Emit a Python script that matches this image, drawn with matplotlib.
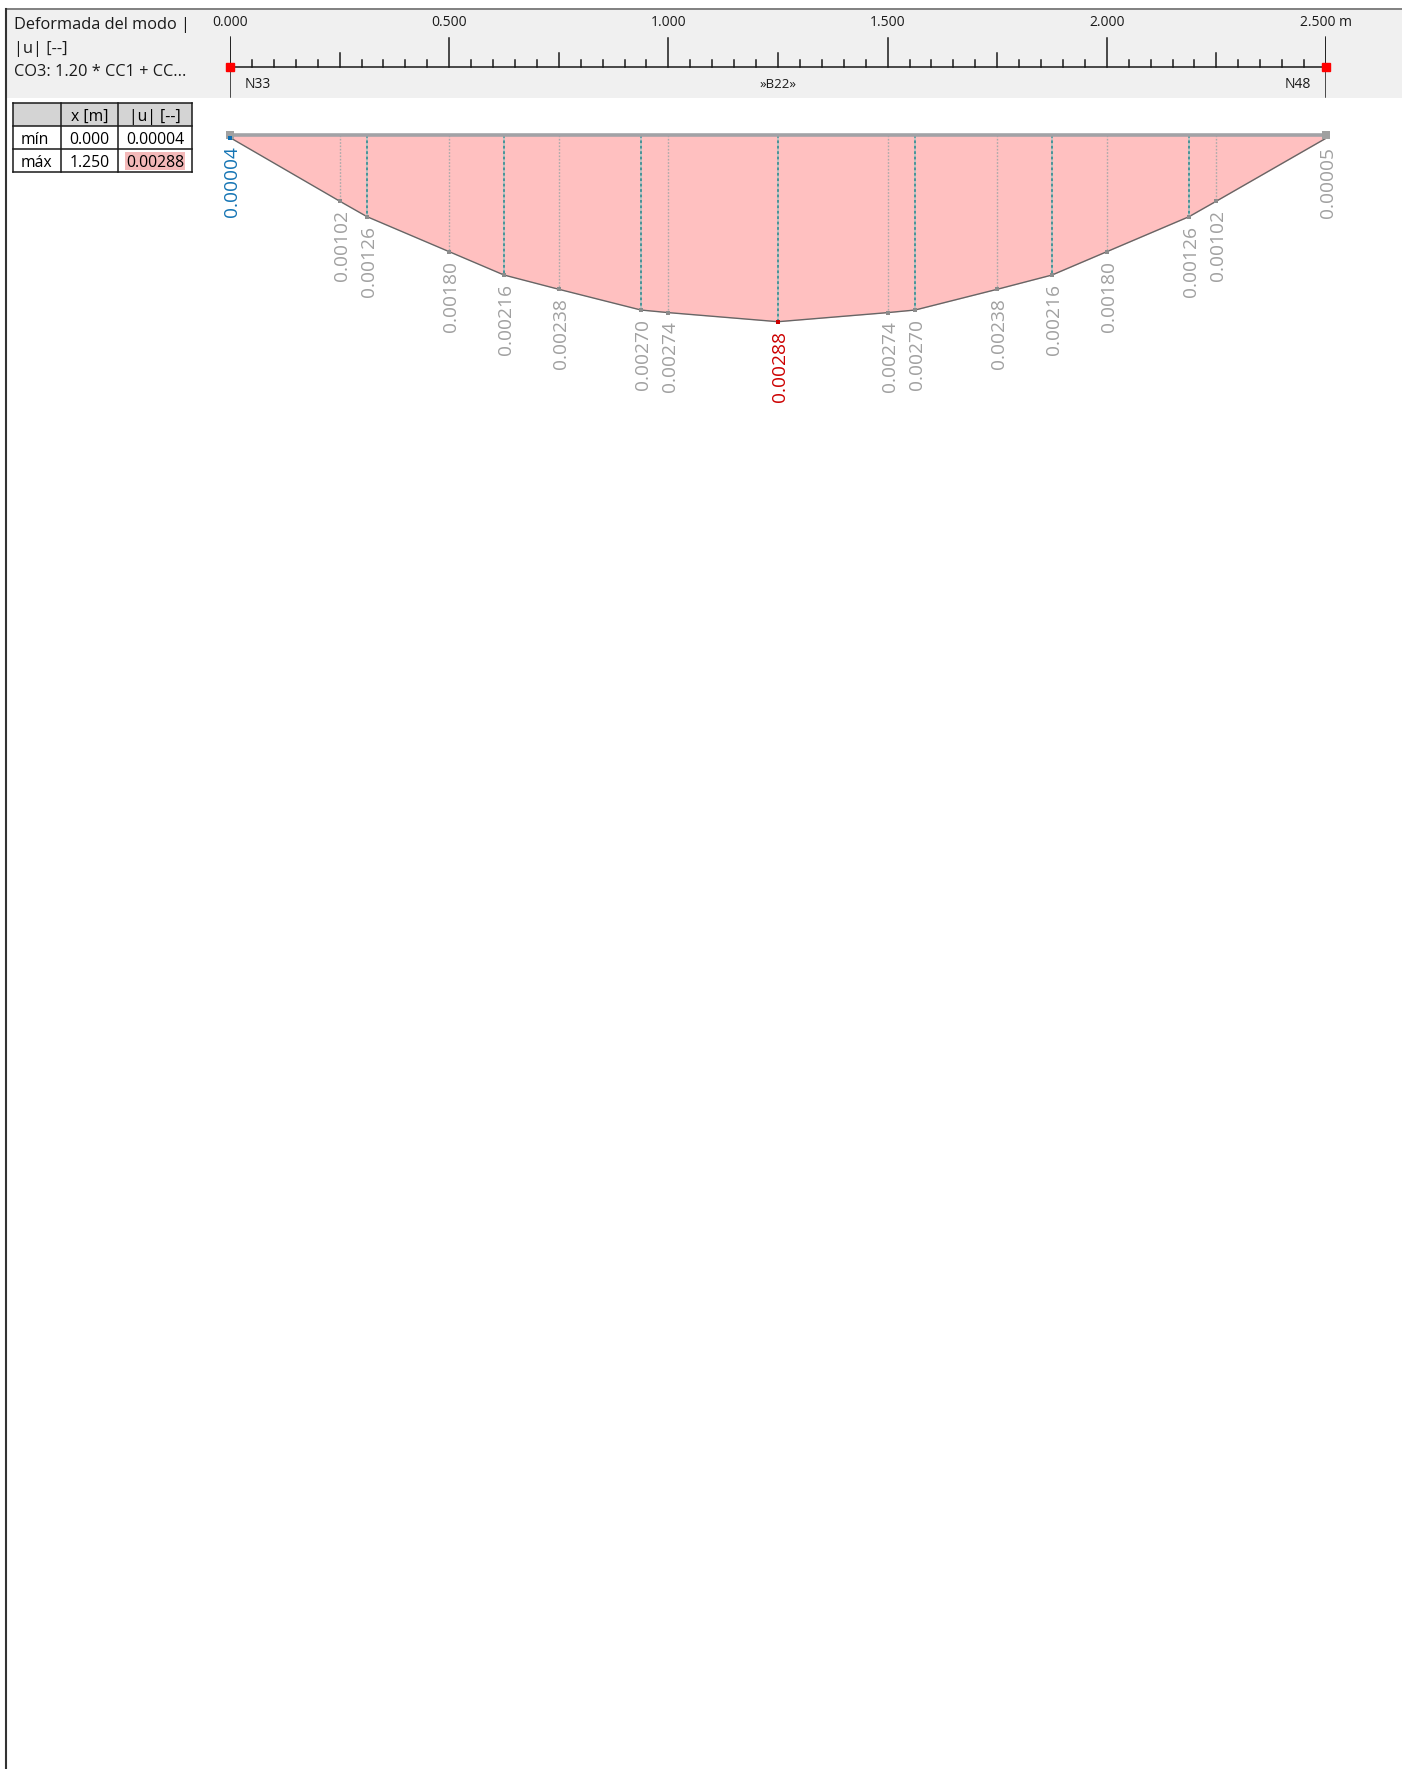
import numpy as np
import matplotlib
matplotlib.use("Agg")
import matplotlib.pyplot as plt
from matplotlib.patches import Rectangle

plt.rcParams['font.family'] = ['Open Sans', 'DejaVu Sans']

W, H = 1402, 1769

# member B22 between nodes N33 and N48, length in m
beam_len = 2.5
x_pts = [0.0, 0.25, 0.3125, 0.5, 0.625, 0.75, 0.9375, 1.0, 1.25,
         1.5, 1.5625, 1.75, 1.875, 2.0, 2.1875, 2.25, 2.5]
u_pts = [0.00004, 0.00102, 0.00126, 0.00180, 0.00216, 0.00238, 0.00270, 0.00274, 0.00288,
         0.00274, 0.00270, 0.00238, 0.00216, 0.00180, 0.00126, 0.00102, 0.00005]
div_x = [0.3125, 0.625, 0.9375, 1.25, 1.5625, 1.875, 2.1875]
ruler_labels = [0.0, 0.5, 1.0, 1.5, 2.0, 2.5]
node_names = ['N33', 'N48']
member_name = '»B22»'
title_lines = ['Deformada del modo |', '|u| [--]', 'CO3: 1.20 * CC1 + CC...']
table_cols = ['x [m]', '|u| [--]']
table_rows = ['mín', 'máx']

i_min = int(np.argmin(u_pts))
i_max = int(np.argmax(u_pts))


def px_box(x0, y0, x1, y1):
    return [x0 / W, 1 - y1 / H, (x1 - x0) / W, (y1 - y0) / H]


fig = plt.figure(figsize=(W / 100, H / 100), dpi=100)
base = fig.add_axes([0, 0, 1, 1])
base.set_xlim(0, W)
base.set_ylim(H, 0)
base.axis('off')

# header band + frame
base.add_patch(Rectangle((6, 9), W - 6, 89, facecolor='#f0f0f0', edgecolor='none'))
base.plot([6, W], [9, 9], color='#808080', lw=1.4)
base.plot([6, 6], [9, H], color='#333333', lw=1.5)

for k, line in enumerate(title_lines):
    base.text(14, 25 + 23.5 * k, line, fontsize=11.8, va='center', ha='left', color='#1a1a1a')

# summary table
cx = [13, 61, 118, 192]
ry = [103, 126, 149, 172]
base.add_patch(Rectangle((cx[0], ry[0]), cx[-1] - cx[0], ry[1] - ry[0], facecolor='#d4d4d4', edgecolor='none'))
base.add_patch(Rectangle((125, 152), 60, 18, facecolor='#f4b9b9', edgecolor='none'))
for x in cx:
    base.plot([x, x], [ry[0], ry[-1]], color='#1a1a1a', lw=1.1)
for y in ry:
    base.plot([cx[0], cx[-1]], [y, y], color='#1a1a1a', lw=1.1)
for j, name in enumerate(table_cols):
    base.text((cx[j + 1] + cx[j + 2]) / 2, (ry[0] + ry[1]) / 2 + 2.5, name, fontsize=11.3, ha='center', va='center')
for r, (name, idx) in enumerate(zip(table_rows, [i_min, i_max])):
    yc = (ry[r + 1] + ry[r + 2]) / 2 + 2.5
    base.text(21, yc, name, fontsize=11.3, ha='left', va='center')
    base.text((cx[1] + cx[2]) / 2, yc, f'{x_pts[idx]:.3f}', fontsize=11.3, ha='center', va='center')
    base.text((cx[2] + cx[3]) / 2, yc, f'{u_pts[idx]:.5f}', fontsize=11.3, ha='center', va='center')

# ruler along the member
rax = fig.add_axes(px_box(230, 10, 1326, 98))
rax.set_xlim(0, beam_len)
rax.set_ylim(98, 10)
rax.axis('off')
y_axis = 67
rax.plot([0, beam_len], [y_axis, y_axis], color='#1a1a1a', lw=1.1)
for t in np.round(np.arange(0, beam_len + 1e-9, 0.05), 3):
    if abs(t / 0.5 - round(t / 0.5)) < 1e-6:
        h = 29
    elif abs(t / 0.25 - round(t / 0.25)) < 1e-6:
        h = 14
    else:
        h = 7
    rax.plot([t, t], [y_axis - h, y_axis], color='#1a1a1a', lw=1.1)
for t in (0, beam_len):
    rax.plot([t, t], [37, 97], color='#1a1a1a', lw=1.1)
rax.plot([0, beam_len], [y_axis, y_axis], 's', ms=6, color='#ff0000', clip_on=False, zorder=5)
for t in ruler_labels:
    if t == ruler_labels[-1]:
        rax.annotate(f'{t:.3f} m', (t, 23), xytext=(-26, 0), textcoords='offset pixels',
                     fontsize=10, ha='left', va='center', color='#1a1a1a')
    else:
        rax.text(t, 23, f'{t:.3f}', fontsize=10, ha='center', va='center', color='#1a1a1a')
rax.annotate(node_names[0], (0, 85), xytext=(15, 0), textcoords='offset pixels',
             fontsize=10, ha='left', va='center', color='#1a1a1a')
rax.annotate(node_names[1], (beam_len, 85), xytext=(-15, 0), textcoords='offset pixels',
             fontsize=10, ha='right', va='center', color='#1a1a1a')
rax.text(beam_len / 2, 85, member_name, fontsize=9.5, ha='center', va='center', color='#1a1a1a')

# deformation diagram
scale = 64826  # px per unit of |u|
ax = fig.add_axes(px_box(230, 135, 1326, 135 + 0.004 * scale))
ax.set_xlim(0, beam_len)
ax.set_ylim(0.004, 0)
ax.axis('off')

ax.fill_between(x_pts, 0, u_pts, color='#ffc0c0', lw=0)
ax.plot(x_pts, u_pts, color='#666666', lw=1.0)
for x, u in zip(x_pts, u_pts):
    if x in div_x:
        ax.plot([x, x], [0, u], color='#b8c4c4', lw=1.3)
        ax.plot([x, x], [0, u], color='#3f8f94', lw=1.3, dashes=(1.5, 1.5))
    elif 0 < x < beam_len:
        ax.plot([x, x], [0, u], color='#aaaaaa', lw=1.0, dashes=(1.2, 1.2))
ax.plot(x_pts[1:-1], u_pts[1:-1], 's', ms=3, color='#8c8c8c', mew=0)
ax.plot(x_pts[i_max], u_pts[i_max], 's', ms=3.5, color='#cc0000', mew=0, zorder=6)

ax.plot([0, beam_len], [0, 0], color='#a2a2a6', lw=2.6, solid_capstyle='butt', clip_on=False)
ax.plot([0, beam_len], [0, 0], 's', ms=5.5, color='#a0a0a0', mew=0, clip_on=False)
ax.plot(x_pts[i_min], 0.00004, 's', ms=2.6, color='#0a6eb4', mew=0, clip_on=False, zorder=6)

for i, (x, u) in enumerate(zip(x_pts, u_pts)):
    if i == i_max:
        c = '#cc0000'
    elif i == i_min:
        c = '#1474b4'
    else:
        c = '#a0a0a0'
    ax.annotate(f'{u:.5f}', (x, u), xytext=(2, -9), textcoords='offset pixels',
                rotation=90, ha='center', va='top', fontsize=13.8, color=c,
                annotation_clip=False)

fig.savefig('out.png', dpi=100)
